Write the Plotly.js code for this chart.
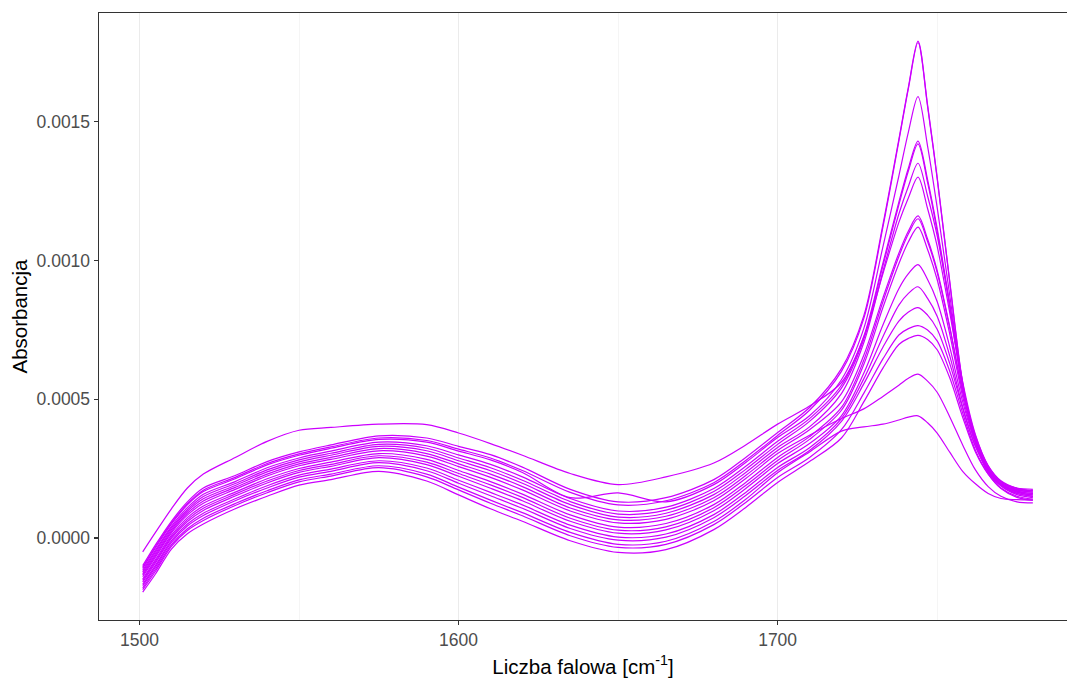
<!DOCTYPE html>
<html>
<head>
<meta charset="utf-8">
<script src="https://cdn.plot.ly/plotly-3.0.1.min.js"></script>
<style>
  html, body { margin: 0; padding: 0; overflow: hidden; background: #ffffff; }
  #chart { width: 1067px; height: 684px; }
</style>
</head>
<body>
<div id="chart"></div>
<script>
const wavenumber = [1501,1505,1510,1515,1520,1530,1540,1550,1560,1575,1590,1600,1610,1620,1635,1650,1665,1680,1690,1700,
                    1710,1720,1727,1733,1738,1741,1744,1747,1750,1754,1758,1762,1766,1770,1775,1780];

// Absorbance values, in units of 1e-4 (converted with UNIT below)
const UNIT = 1e-4;
const spectrum01 = [-0.5,0.2,1.05,1.8,2.3,2.9,3.48,3.88,3.98,4.1,4.08,3.78,3.4,2.98,2.32,1.92,2.2,2.7,3.35,4.1, 4.75,5.6,7.23,9.52,11.37,12.26,13.0,11.87,10.51,8.08,5.49,3.68,2.6,2.06,1.79,1.7];
const spectrum02 = [-1.0,-0.25,0.6,1.3,1.8,2.25,2.75,3.1,3.35,3.68,3.6,3.3,3.0,2.55,1.75,1.3,1.45,2.1,2.9,3.8, 4.7,6.1,8.0,11.29,14.36,16.25,17.9,15.6,13.0,9.2,5.6,3.5,2.4,1.95,1.8,1.75];
const spectrum03 = [-1.06,-0.31,0.54,1.23,1.72,2.18,2.68,3.03,3.28,3.6,3.51,3.2,2.88,2.43,1.64,1.19,1.34,1.99,2.79,3.69, 4.6,6.0,7.9,11.2,14.3,16.2,17.85,15.55,12.95,9.15,5.55,3.45,2.35,1.9,1.75,1.7];
const spectrum04 = [-1.1,-0.36,0.5,1.19,1.67,2.13,2.63,2.98,3.23,3.55,3.45,3.13,2.81,2.36,1.45,1.62,1.3,1.92,2.72,3.62, 4.4,5.7,7.54,10.49,13.04,14.63,15.9,14.12,11.91,8.7,5.5,3.5,2.39,1.91,1.72,1.65];
const spectrum05 = [-1.17,-0.44,0.42,1.09,1.57,2.03,2.53,2.88,3.13,3.45,3.32,2.99,2.65,2.2,1.42,0.97,1.11,1.78,2.58,3.48, 4.3,5.5,7.26,9.9,12.1,13.33,14.3,12.91,11.15,8.38,5.48,3.59,2.52,2.02,1.78,1.7];
const spectrum06 = [-1.23,-0.5,0.36,1.02,1.49,1.96,2.45,2.81,3.05,3.37,3.23,2.88,2.53,2.08,1.31,0.86,1.0,1.67,2.47,3.37, 4.2,5.4,7.16,9.8,12.0,13.23,14.2,12.81,11.05,8.28,5.38,3.49,2.42,1.92,1.68,1.6];
const spectrum07 = [-1.29,-0.57,0.3,0.96,1.41,1.89,2.38,2.74,2.98,3.3,3.14,2.78,2.42,1.97,1.2,0.75,0.89,1.56,2.36,3.26, 4.0,5.2,7.03,9.6,11.67,12.67,13.5,12.32,10.89,8.35,5.62,3.72,2.6,2.03,1.74,1.65];
const spectrum08 = [-1.34,-0.63,0.24,0.89,1.33,1.82,2.3,2.67,2.9,3.22,3.04,2.67,2.3,1.85,1.08,0.65,0.78,1.45,2.25,3.15, 3.9,4.9,6.58,8.65,10.26,11.06,11.6,10.77,9.64,7.58,5.27,3.56,2.5,1.95,1.65,1.55];
const spectrum09 = [-1.4,-0.69,0.18,0.82,1.25,1.75,2.23,2.6,2.83,3.14,2.95,2.57,2.18,1.73,0.97,0.54,0.67,1.34,2.14,3.04, 3.7,4.3,4.65,5.1,5.5,5.75,5.9,5.65,5.25,4.35,3.35,2.45,1.85,1.5,1.3,1.26];
const spectrum10 = [-1.48,-0.78,0.1,0.73,1.15,1.65,2.13,2.5,2.73,3.04,2.83,2.43,2.03,1.58,0.83,0.39,0.52,1.2,2.0,2.9, 3.65,4.7,6.4,8.51,10.14,10.96,11.5,10.68,9.57,7.54,5.26,3.58,2.54,2.0,1.7,1.6];
const spectrum11 = [-1.53,-0.84,0.04,0.66,1.07,1.58,2.05,2.43,2.65,2.96,2.73,2.32,1.91,1.46,0.71,0.28,0.4,1.09,1.89,2.79, 3.55,4.6,6.25,8.3,9.88,10.67,11.2,10.39,9.31,7.32,5.09,3.44,2.42,1.89,1.6,1.5];
const spectrum12 = [-1.59,-0.9,-0.02,0.59,0.99,1.51,1.98,2.36,2.58,2.89,2.64,2.22,1.79,1.34,0.6,0.17,0.29,0.98,1.78,2.68, 3.4,4.4,5.93,7.67,8.98,9.52,9.85,9.31,8.52,6.86,4.91,3.42,2.46,1.95,1.65,1.55];
const spectrum13 = [-1.67,-0.99,-0.1,0.5,0.89,1.41,1.88,2.26,2.48,2.78,2.52,2.08,1.64,1.19,0.46,0.03,0.14,0.84,1.64,2.54, 3.25,4.3,5.73,7.25,8.39,8.81,9.05,8.63,7.99,6.54,4.72,3.31,2.4,1.87,1.56,1.45];
const spectrum14 = [-1.72,-1.05,-0.16,0.43,0.81,1.34,1.8,2.19,2.4,2.71,2.42,1.97,1.52,1.07,0.34,-0.08,0.03,0.73,1.53,2.43, 3.15,4.2,5.55,6.87,7.81,8.14,8.3,8.03,7.52,6.26,4.66,3.3,2.45,1.92,1.61,1.5];
const spectrum15 = [-1.8,-1.13,-0.24,0.33,0.71,1.24,1.7,2.09,2.3,2.6,2.3,1.83,1.36,0.91,0.2,-0.23,-0.12,0.59,1.39,2.35, 3.1,3.85,4.0,4.1,4.25,4.35,4.4,4.15,3.78,3.08,2.4,1.95,1.6,1.42,1.38,1.37];
const spectrum16 = [-1.86,-1.2,-0.3,0.27,0.63,1.17,1.63,2.02,2.23,2.53,2.2,1.73,1.25,0.8,0.08,-0.34,-0.23,0.48,1.28,2.18, 2.9,3.9,5.21,6.45,7.31,7.54,7.65,7.49,7.1,5.99,4.5,3.16,2.31,1.78,1.46,1.35];
const spectrum17 = [-1.95,-1.3,-0.4,0.15,0.5,1.05,1.5,1.9,2.1,2.4,2.05,1.55,1.05,0.6,-0.1,-0.52,-0.42,0.3,1.1,2.0, 2.75,3.6,4.9,6.12,6.97,7.19,7.3,7.15,6.78,5.75,4.35,3.1,2.3,1.8,1.5,1.4];

const spectra = [spectrum01,spectrum02,spectrum03,spectrum04,spectrum05,spectrum06,spectrum07,spectrum08,spectrum09,
                 spectrum10,spectrum11,spectrum12,spectrum13,spectrum14,spectrum15,spectrum16,spectrum17];

const xTickVals = [1500, 1600, 1700];
const yTickVals = [0, 0.0005, 0.0010, 0.0015];
const yTickText = ["0.0000", "0.0005", "0.0010", "0.0015"];

const LINE_COLOR = "#CC00FF";
const FONT = "Liberation Sans, Arial, sans-serif";

const traces = spectra.map((s, i) => ({
  type: "scatter",
  mode: "lines",
  x: wavenumber,
  y: s.map(v => v * UNIT),
  line: { color: LINE_COLOR, width: 1.2, shape: "spline", smoothing: 0.9 },
  hoverinfo: "skip",
  showlegend: false,
  name: "spektrum " + (i + 1)
}));

const layout = {
  width: 1067,
  height: 684,
  margin: { l: 99, r: 0, t: 13, b: 64, pad: 0 },
  paper_bgcolor: "#ffffff",
  plot_bgcolor: "#ffffff",
  showlegend: false,
  font: { family: FONT, color: "#4D4D4D" },
  xaxis: {
    range: [1487.3, 1790.7],
    tickvals: xTickVals,
    ticktext: xTickVals.map(String),
    ticks: "outside",
    ticklen: 4,
    tickwidth: 1.2,
    tickcolor: "#333333",
    tickfont: { family: FONT, size: 17.5, color: "#4D4D4D" },
    showline: true,
    linecolor: "#333333",
    linewidth: 1.4,
    mirror: true,
    showgrid: true,
    gridcolor: "#EBEBEB",
    gridwidth: 1.4,
    minor: { dtick: 50, tick0: 1500, showgrid: true, gridcolor: "#F3F3F3", gridwidth: 0.8, ticks: "" },
    zeroline: false,
    title: { text: "Liczba falowa [cm<sup>-1</sup>]", font: { family: FONT, size: 20.5, color: "#000000" }, standoff: 10 }
  },
  yaxis: {
    range: [-0.0002957, 0.0018913],
    tickvals: yTickVals,
    ticktext: yTickText,
    ticks: "outside",
    ticklen: 4,
    tickwidth: 1.2,
    tickcolor: "#333333",
    tickfont: { family: FONT, size: 17.5, color: "#4D4D4D" },
    showline: true,
    linecolor: "#333333",
    linewidth: 1.4,
    mirror: false,
    showgrid: false,
    zeroline: false,
    title: { text: "Absorbancja", font: { family: FONT, size: 20.5, color: "#000000" }, standoff: 3 }
  }
};

Plotly.newPlot("chart", traces, layout, { staticPlot: true, displayModeBar: false });
</script>
</body>
</html>
